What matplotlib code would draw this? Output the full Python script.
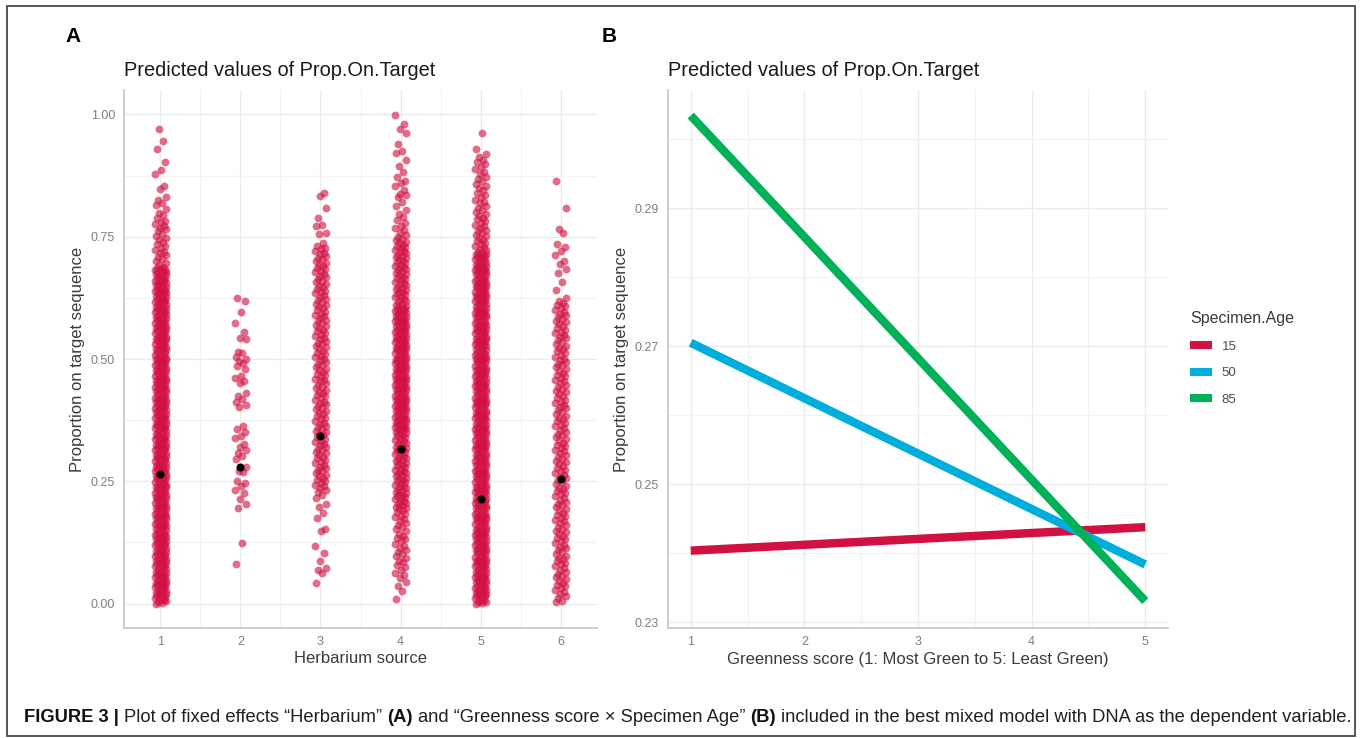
"""Figure 3: fixed effects of herbarium source and greenness x specimen age."""

import matplotlib
matplotlib.use("Agg")
import matplotlib.pyplot as plt
from matplotlib.lines import Line2D
from matplotlib.patches import Rectangle

plt.rcParams["font.family"] = ["Liberation Sans", "DejaVu Sans"]


def permille(text):
    # values typed in thousandths
    return [int(v) / 1000 for v in text.split()]


herb1 = permille("""
0 2 3 5 7 8 11 12 14 16 17 19 20 21 23 25 26 28 31 33 34 36 38 39
40 42 43 45 47 48 51 52 54 56 57 59 60 61 63 65 66 68 71 73 74 76 78 79
80 82 83 85 87 88 91 92 94 96 97 99 100 101 103 105 106 108 111 113 114 116 118 119
120 122 123 125 127 128 131 132 134 136 137 139 140 141 143 145 146 148 151 153 154 156 158 159
160 162 163 165 167 168 171 172 174 176 177 179 180 181 183 185 186 188 191 193 194 196 198 199
200 202 203 205 207 208 211 212 214 216 217 219 220 221 223 225 226 228 231 233 234 236 238 239
240 242 243 245 247 248 251 252 254 256 257 259 260 261 263 265 266 268 271 273 274 276 278 279
280 282 283 285 287 288 291 292 294 296 297 299 300 301 303 305 306 308 311 313 314 316 318 319
320 322 323 325 327 328 331 332 334 336 337 339 340 341 343 345 346 348 351 353 354 356 358 359
360 362 363 365 367 368 371 372 374 376 377 379 380 381 383 385 386 388 391 393 394 396 398 399
400 402 403 405 407 408 411 412 414 416 417 419 420 421 423 425 426 428 431 433 434 436 438 439
440 442 443 445 447 448 451 452 454 456 457 459 460 461 463 465 466 468 471 473 474 476 478 479
480 482 483 485 487 488 491 492 494 496 497 499 500 501 503 505 506 508 511 513 514 516 518 519
520 522 523 525 527 528 531 532 534 536 537 539 540 541 543 545 546 548 551 553 554 556 558 559
560 562 563 565 567 568 571 572 574 576 577 579 580 581 583 585 586 588 591 593 594 596 598 599
600 602 603 605 607 608 611 612 614 616 617 619 620 621 623 625 626 628 631 633 634 636 638 639
640 642 643 645 647 648 651 652 654 656 657 659 660 661 663 665 666 668 671 673 674 676 678 679
680 682 683 685 687 688 693 697 701 704 708 712 716 719 723 727 731 735 739 744 748 751
756 761 765 768 771 776 780 783 788 795 798 807 815 818 826 832 848 854 879 887 902 929 946 970
""")

herb2 = permille("""
80 123 196 204 213 227 233 240 246 251 268 272 279 295 301 308 314 320 327 338
343 350 356 362 401 405 412 418 425 431 450 456 461 466 480 486 491 495 500 505
512 515 540 543 555 574 596 619 624
""")

herb3 = permille("""
41 62 68 73 87 104 117 148 153 175 186 198 204 215 222 228
233 236 240 243 246 250 253 257 260 263 267 270 273 277 280 283 287 290 294 297
300 303 307 310 313 317 320 324 327 330 333 337 340 344 347 350 353 357 360 363
367 370 374 377 380 383 387 390 394 397 400 403 407 410 413 417 420 424 427 430
433 437 440 443 447 450 454 457 460 463 467 470 474 477 480 483 487 490 493 497
500 504 507 510 513 517 520 524 527 530 533 537 540 543 547 550 554 557 560 563
567 570 574 577 580 583 587 590 593 597 600 604 607 610 613 617 620 623 627 630
634 637 640 643 647 650 653 657 660 664 667 670 673 677 680 684 687 690 693 697
700 704 707 710 714 717 721 724 727 731 737 756 758 771 774 788 809 833 839
""")

herb4 = permille("""
10 26 35 44 52 58 63 69 74 79 84 88 93 97 101 106 110 114 118 122 127 131 135 139
143 148 152 156 160 164 168 172 176 180 184 188
191 193 196 198 201 203 205 208 210 213 215 217 220 222 224 227 229 231 234 236
238 241 243 246 248 250 253 255 257 260 262 264 267 269 272 274 276 279 281 283
286 288 291 293 295 298 300 302 305 307 309 312 314 316 319 321 324 326 328 331
333 335 338 340 342 345 347 349
351 353 354 356 358 359 360 362 363 365 367 368 371 372 374 376 377 379 380 381 383 385 386 388
391 393 394 396 398 399 400 402 403 405 407 408 411 412 414 416 417 419 420 421 423 425 426 428
431 433 434 436 438 439 440 442 443 445 447 448 451 452 454 456 457 459 460 461 463 465 466 468
471 473 474 476 478 479 480 482 483 485 487 488 491 492 494 496 497 499 500 501 503 505 506 508
511 513 514 516 518 519 520 522 523 525 527 528 531 532 534 536 537 539 540 541 543 545 546 548
551 553 554 556 558 559 560 562 563 565 567 568 571 572 574 576 577 579 580 581 583 585 586 588
591 593 594 596 598 599 600 602 603 605 607 608
611 613 616 618 621 623 626 628 631 633 636 638 641 643 646 648 651 653 656 658
661 663 666 668 671 673 676 678 681 683 686 688 691 693 696 698 701 703 706 708
711 713 716 718 721 723 726 728 731 734 737 740 743 746 749
753 758 764 768 771 779 785 790 797 805 812 820 832 835 838 846 853 860 864 873
882 894 907 921 925 939 962 970 981 999
""")

herb5 = permille("""
0 1 3 4 6 8 11 13 15 16 18 19 20 22 24 25 27 29 30 31 33 34 36 38
41 43 45 46 48 49 50 52 54 55 57 59 60 61 63 64 66 68 71 73 75 76 78 79
80 82 84 85 87 89 90 91 93 94 96 98 101 103 105 106 108 109 110 112 114 115 117 119
120 121 123 124 126 128 131 133 135 136 138 139 140 142 144 145 147 149 150 151 153 154 156 158
161 163 165 166 168 169 170 172 174 175 177 179 180 181 183 184 186 188 191 193 195 196 198 199
200 202 204 205 207 209 210 211 213 214 216 218 221 223 225 226 228 229 230 232 234 235 237 239
240 241 243 244 246 248 251 253 255 256 258 259 260 262 264 265 267 269 270 271 273 274 276 278
281 283 285 286 288 289 290 292 294 295 297 299 300 301 303 304 306 308 311 313 315 316 318 319
320 322 324 325 327 329 330 331 333 334 336 338 341 343 345 346 348 349 350 352 354 355 357 359
360 361 363 364 366 368 371 373 375 376 378 379 380 382 384 385 387 389 390 391 393 394 396 398
401 403 405 406 408 409 410 412 414 415 417 419 420 421 423 424 426 428 431 433 435 436 438 439
440 442 444 445 447 449 450 451 453 454 456 458 461 463 465 466 468 469 470 472 474 475 477 479
480 481 483 484 486 488 491 493 495 496 498 499 500 502 504 505 507 509 510 511 513 514 516 518
521 523 525 526 528 529 530 532 534 535 537 539 540 541 543 544 546 548 551 553 555 556 558 559
560 562 564 565 567 569 570 571 573 574 576 578 581 583 585 586 588 589 590 592 594 595 597 599
600 601 603 604 606 608 611 613 615 616 618 619 620 622 624 625 627 629 630 631 633 634 636 638
641 643 645 646 648 649 650 652 654 655 657 659 660 661 663 664 666 668 671 673 675 676 678 679
680 682 684 685 687 689 690 691 693 694 696 698 701 703 705 706 708 709 710 712 714 715 717 719
722 725 729 732 735 738 741 744 748 751 754 757 761 764 768 771 774 778 782 786
789 793 797 801 805 809 813 818 822 826 831 836 840 845 849 854 858 863 868 873
878 883 888 893 898 903 907 912 920 929 962
""")

herb6 = permille("""
3 6 11 15 19 23 27 31 35 38 42 46 50 54 57 61 65 69 72 76 80 83 87 91 94 98
102 105 109 113 116 120 124 127 131 135 138 142 146 149 153 157 160 164 168 171 175 179
182 186 190 193 197 201 204 208 212 215 219 223 226 230 234 237 241 245 248 252 256 259
263 267 270 274 278 281 285 289 292 296 300 303 307 311 314 318 322 325 329 333 336 340
344 347 351 355 358 362 366 369 373 377 380 384 388 391 395 399 402 406 410 413 417 421
424 428 432 435 439 443 446 450 454 457 461 465 468 472 476 479 483 487 490 494 498 501
505 509 512 516 520 523 527 531 534 538 542 545 549 553 556 560 564 567 571 575 578 582
586 589 593 597 600 604 608 611 615 619
625 642 657 675 685 694 700 712 721 730 735 757 766 809 863
""")

herbarium = [1, 2, 3, 4, 5, 6]
herbarium_obs = [herb1, herb2, herb3, herb4, herb5, herb6]
herbarium_pred = [0.264, 0.279, 0.342, 0.315, 0.214, 0.255]
jitter = [-0.056, 0.020, -0.030, 0.066, -0.007, 0.043, -0.068,
          0.009, 0.054, -0.043, 0.031, -0.019, 0.068]

# --- panel B: predicted lines per specimen age
greenness = [1, 5]
age_levels = ["15", "50", "85"]
pred_age15 = [0.2404, 0.2438]
pred_age50 = [0.2705, 0.2384]
pred_age85 = [0.3034, 0.2331]

RED = "#d11141"
BLUE = "#00aedb"
GREEN = "#00b159"
TICK_GREY = "#7f7f7f"
TITLE_GREY = "#3a3a3a"

W, H = 1362, 738


def fx(px):
    return px / W


def fy(py):
    return 1 - py / H


def style_axes(ax):
    for side in ("top", "right"):
        ax.spines[side].set_visible(False)
    for side in ("left", "bottom"):
        ax.spines[side].set_color("#c9c9c9")
        ax.spines[side].set_linewidth(1.3)
    ax.tick_params(which="both", length=0, labelsize=9, labelcolor=TICK_GREY)
    ax.tick_params(axis="y", pad=6.5)
    ax.tick_params(axis="x", pad=6)
    ax.grid(which="major", color="#ebebeb", linewidth=1.0)
    ax.grid(which="minor", color="#f2f2f2", linewidth=0.8)
    ax.set_axisbelow(True)


fig = plt.figure(figsize=(W / 100, H / 100), dpi=100)

ax_a = fig.add_axes([fx(124), fy(628), fx(597) - fx(124), (628 - 90) / H])
ax_b = fig.add_axes([fx(668), fy(628), fx(1168) - fx(668), (628 - 90) / H])

# panel A
for g, vals in zip(herbarium, herbarium_obs):
    xs = [g + jitter[i % len(jitter)] for i in range(len(vals))]
    ax_a.scatter(xs, vals, s=32, color=RED, alpha=0.62, linewidths=0)
ax_a.scatter(herbarium, herbarium_pred, s=34, color="black", linewidths=0, zorder=3)

style_axes(ax_a)
ax_a.set_xlim(0.545, 6.455)
ax_a.set_ylim(-0.05, 1.05)
ax_a.set_xticks(herbarium)
ax_a.set_xticks([1.5, 2.5, 3.5, 4.5, 5.5], minor=True)
ax_a.set_yticks([0, 0.25, 0.5, 0.75, 1.0])
ax_a.set_yticklabels(["0.00", "0.25", "0.50", "0.75", "1.00"])
ax_a.set_yticks([0.125, 0.375, 0.625, 0.875], minor=True)
ax_a.set_xlabel("Herbarium source", fontsize=12, color=TITLE_GREY)
ax_a.set_ylabel("Proportion on target sequence", fontsize=12, color=TITLE_GREY)
ax_a.xaxis.set_label_coords(0.5, -0.043)
ax_a.yaxis.set_label_coords(-0.083, 0.5)

# panel B
for vals, col in zip([pred_age15, pred_age50, pred_age85], [RED, BLUE, GREEN]):
    ax_b.plot(greenness, vals, color=col, linewidth=6.1, solid_capstyle="butt")

style_axes(ax_b)
ax_b.set_xlim(0.8, 5.2)
ax_b.set_ylim(0.2292, 0.3071)
ax_b.set_xticks([1, 2, 3, 4, 5])
ax_b.set_xticks([1.5, 2.5, 3.5, 4.5], minor=True)
ax_b.set_yticks([0.23, 0.25, 0.27, 0.29])
ax_b.set_yticklabels(["0.23", "0.25", "0.27", "0.29"])
ax_b.set_yticks([0.24, 0.26, 0.28, 0.30], minor=True)
ax_b.set_xlabel("Greenness score (1: Most Green to 5: Least Green)", fontsize=12, color=TITLE_GREY)
ax_b.set_ylabel("Proportion on target sequence", fontsize=12, color=TITLE_GREY)
ax_b.xaxis.set_label_coords(0.5, -0.045)
ax_b.yaxis.set_label_coords(-0.078, 0.5)

keys = [Line2D([], [], color=c, linewidth=5.8, solid_capstyle="butt") for c in (RED, BLUE, GREEN)]
leg = ax_b.legend(keys, age_levels, title="Specimen.Age", loc="upper left",
                  bbox_to_anchor=(fx(1190), fy(311.5)), bbox_transform=fig.transFigure,
                  frameon=False, fontsize=9.5, title_fontsize=11.5, handlelength=1.65,
                  handletextpad=0.75, labelspacing=1.08, borderpad=0, borderaxespad=0,
                  alignment="left")
for t in leg.get_texts():
    t.set_color("#4d4d4d")
leg.get_title().set_color(TITLE_GREY)

# titles and panel letters
for px, txt in ((124, "Predicted values of Prop.On.Target"), (668, "Predicted values of Prop.On.Target")):
    fig.text(fx(px), fy(71), txt, fontsize=14.4, color="#1a1a1a", ha="left", va="center")
fig.text(fx(65), fy(36), "A", fontsize=15, fontweight="bold", ha="left", va="center")
fig.text(fx(602), fy(36), "B", fontsize=15, fontweight="bold", ha="left", va="center")

# frame round the figure
fig.patches.append(Rectangle((fx(7), fy(736)), fx(1355) - fx(7), (736 - 6) / H,
                             transform=fig.transFigure, fill=False,
                             edgecolor="#4a4a4a", linewidth=1.3))

# caption with bold pieces, fitted to the frame width
caption = [
    ("FIGURE 3 |", True),
    ("Plot of fixed effects \u201cHerbarium\u201d", False),
    ("(A)", True),
    ("and \u201cGreenness score \u00d7 Specimen Age\u201d", False),
    ("(B)", True),
    ("included in the best mixed model with DNA as the dependent variable.", False),
]
CAP_FONT = ["Liberation Sans Narrow", "Liberation Sans", "DejaVu Sans"]
renderer = fig.canvas.get_renderer()


def draw_caption(size):
    probe = fig.text(0, 0, "x x", fontsize=size, family=CAP_FONT)
    probe2 = fig.text(0, 0, "xx", fontsize=size, family=CAP_FONT)
    space = probe.get_window_extent(renderer).width - probe2.get_window_extent(renderer).width
    probe.remove()
    probe2.remove()
    x = 24.0
    made = []
    for i, (s, bold) in enumerate(caption):
        if i:
            x += space
        t = fig.text(fx(x), fy(717), s, fontsize=size, family=CAP_FONT,
                     fontweight="bold" if bold else "normal",
                     color="#111111" if bold else "#231f20", ha="left", va="center")
        x = t.get_window_extent(renderer).x1
        made.append(t)
    return made, x


parts, end = draw_caption(13)
for t in parts:
    t.remove()
draw_caption(13 * (1346 - 24) / (end - 24))

fig.savefig("out.png", dpi=100)
